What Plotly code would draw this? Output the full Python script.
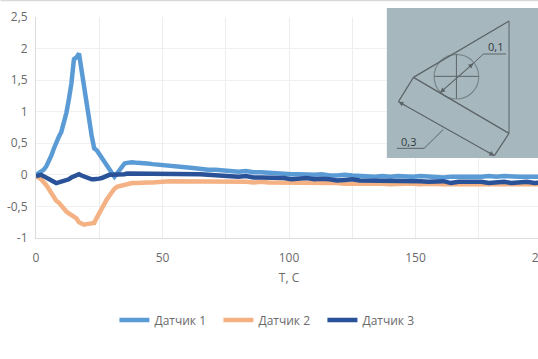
import plotly.graph_objects as go

time_s = [0,1,2,3,4,5,6,7,8,9,10,11,12,13,14,15,16,17,18,19,20,21,22,23,24,25,26,27,28,29,30,31,32,33,34,35,36,38,40,42,44,46,48,50,
          53,56,59,62,65,68,71,74,77,80,83,86,89,92,95,98,101,104,107,110,113,116,119,122,125,128,131,134,137,140,143,146,149,152,155,158,161,164,167,170,173,176,179,182,185,188,191,194,197,200]
sensor_1 = [0,0.02,0.04,0.08,0.13,0.21,0.3,0.41,0.52,0.6,0.68,0.83,0.98,1.2,1.45,1.83,1.86,1.92,1.65,1.38,1.18,0.8,0.62,0.42,0.39,0.33,0.27,0.21,0.14,0.08,0.02,-0.03,0.02,0.08,0.14,0.18,0.19,0.2,0.19,0.19,0.18,0.17,0.16,0.15,
            0.14,0.12,0.12,0.11,0.09,0.08,0.08,0.07,0.06,0.05,0.06,0.04,0.04,0.03,0.02,0.02,0.01,0.01,0,0,0.01,-0.01,-0.01,0,-0.01,-0.02,-0.02,-0.03,-0.02,-0.03,-0.02,-0.03,-0.03,-0.02,-0.03,-0.03,-0.04,-0.03,-0.03,-0.03,-0.04,-0.03,-0.02,-0.03,-0.02,-0.03,-0.03,-0.03,-0.03,-0.03]
sensor_2 = [-0.03,-0.04,-0.07,-0.11,-0.16,-0.22,-0.29,-0.35,-0.41,-0.44,-0.49,-0.53,-0.58,-0.61,-0.63,-0.66,-0.69,-0.75,-0.78,-0.79,-0.78,-0.77,-0.77,-0.76,-0.68,-0.6,-0.52,-0.45,-0.39,-0.33,-0.27,-0.22,-0.19,-0.18,-0.17,-0.16,-0.15,-0.13,-0.13,-0.12,-0.12,-0.12,-0.12,-0.11,
            -0.1,-0.1,-0.11,-0.1,-0.1,-0.1,-0.1,-0.1,-0.11,-0.1,-0.11,-0.12,-0.11,-0.12,-0.12,-0.12,-0.13,-0.13,-0.12,-0.13,-0.13,-0.13,-0.13,-0.14,-0.14,-0.13,-0.14,-0.13,-0.14,-0.15,-0.14,-0.14,-0.14,-0.15,-0.14,-0.15,-0.15,-0.15,-0.15,-0.14,-0.15,-0.15,-0.15,-0.14,-0.15,-0.15,-0.15,-0.15,-0.15,-0.15]
sensor_3 = [-0.02,-0.01,0,-0.02,-0.04,-0.06,-0.08,-0.11,-0.13,-0.12,-0.11,-0.1,-0.09,-0.07,-0.04,-0.02,0,0.01,-0.01,-0.03,-0.05,-0.06,-0.07,-0.07,-0.07,-0.06,-0.05,-0.03,-0.02,0,0,0,0,0.01,0.01,0.01,0.02,0.02,0.02,0.02,0.02,0.02,0.02,0.02,
            0.02,0.01,0.01,0.01,0.01,0,-0.01,-0.01,-0.02,-0.03,-0.02,-0.04,-0.04,-0.04,-0.05,-0.05,-0.07,-0.06,-0.05,-0.07,-0.06,-0.07,-0.09,-0.08,-0.07,-0.09,-0.09,-0.09,-0.09,-0.09,-0.1,-0.1,-0.1,-0.1,-0.11,-0.11,-0.1,-0.13,-0.11,-0.11,-0.11,-0.11,-0.13,-0.12,-0.11,-0.13,-0.12,-0.11,-0.13,-0.12]
series_names = ["Датчик 1", "Датчик 2", "Датчик 3"]
series_colors = ["#5B9BD5", "#F4B183", "#2A5298"]
y_ticks = [-1,-0.5,0,0.5,1,1.5,2,2.5]
y_labels = ["-1","-0,5","0","0,5","1","1,5","2","2,5"]
x_ticks = [0,50,100,150,200]

W, H = 560, 359
L, R, T, B = 35.5, 18, 17, 121
FONT = "Open Sans, sans-serif"
TXT = "#6a6a6a"

def px(x): return (x - L) / (W - L - R)
def py(y): return 1 - (y - T) / (H - T - B)

fig = go.Figure()
for name, vals, col in zip(series_names, [sensor_1, sensor_2, sensor_3], series_colors):
    fig.add_trace(go.Scatter(x=time_s, y=vals, name=name, mode="lines",
                             line=dict(color=col, width=4.5), cliponaxis=False))

# inset sketch
def zx(v): return 380 + v / 3
def zy(v): return v / 3
INK = "#5c6468"
shapes = [
    dict(type="line", xref="paper", yref="paper", x0=px(0), x1=px(560), y0=py(0.5), y1=py(0.5),
         line=dict(color="#d9d9d9", width=1.5)),
    dict(type="rect", xref="paper", yref="paper", x0=px(386.7), x1=px(560), y0=py(8), y1=py(158),
         fillcolor="#A6B8BD", line=dict(width=0)),
    dict(type="circle", xref="paper", yref="paper", x0=px(zx(162)), x1=px(zx(296)), y0=py(zy(163)), y1=py(zy(297)),
         line=dict(color="#79868b", width=1.2)),
]
segs = [
    ((100,232),(387,63),1.3),((387,63),(387,400),1.0),((387,400),(100,232),1.3),
    ((100,232),(55,305),1.2),((387,400),(343,467),1.2),
    ((55,305),(343,467),1.2),((190,388),(132,445),1.0),((132,445),(50,445),1.0),
    ((163,229),(296,229),1.0),((229,163),(229,296),1.0),
    ((180,278),(280,190),1.2),((280,190),(310,162),1.0),((310,162),(378,162),1.0),
]
for a, b, w in segs:
    shapes.append(dict(type="line", xref="paper", yref="paper",
                       x0=px(zx(a[0])), y0=py(zy(a[1])), x1=px(zx(b[0])), y1=py(zy(b[1])),
                       line=dict(color=INK, width=w)))
annotations = [
    dict(xref="paper", yref="paper", x=px(zx(345)), y=py(zy(140)), text="0,1", showarrow=False,
         xanchor="center", yanchor="middle", font=dict(family=FONT, size=11, color="#333a3d")),
    dict(xref="paper", yref="paper", x=px(zx(84)), y=py(zy(424)), text="0,3", showarrow=False,
         xanchor="center", yanchor="middle", font=dict(family=FONT, size=11, color="#333a3d")),
]
for tip, tail in [((55,305),(80,319)),((343,467),(318,453)),((180,278),(195,265)),((280,190),(265,203))]:
    annotations.append(dict(xref="paper", yref="paper",
                            x=px(zx(tip[0])), y=py(zy(tip[1])),
                            ax=(tail[0]-tip[0])/3, ay=(tail[1]-tip[1])/3, text="", showarrow=True,
                            arrowhead=2, arrowsize=1, arrowwidth=1, arrowcolor=INK))

fig.update_layout(
    width=W, height=H, autosize=False,
    margin=dict(l=L, r=R, t=T, b=B, pad=0, autoexpand=False),
    paper_bgcolor="white", plot_bgcolor="white",
    font=dict(family=FONT, size=12, color=TXT),
    shapes=shapes, annotations=annotations,
    legend=dict(orientation="h", x=px(114), xanchor="left", y=py(320), yanchor="middle",
                entrywidth=59, entrywidthmode="pixels", font=dict(size=12, color=TXT),
                bgcolor="rgba(0,0,0,0)", traceorder="normal"),
    xaxis=dict(range=[0,200], tickvals=x_ticks, ticktext=[str(v) for v in x_ticks],
               showgrid=True, gridcolor="#ededed", gridwidth=1,
               minor=dict(dtick=25, showgrid=True, gridcolor="#ededed", gridwidth=1),
               zeroline=False, showline=True, linecolor="#dcdcdc", linewidth=1, ticks="",
               automargin=False, ticklabelstandoff=9, tickfont=dict(size=12, color=TXT),
               title=dict(text="T, C", font=dict(size=12, color=TXT), standoff=8)),
    yaxis=dict(range=[-1,2.5], tickvals=y_ticks, ticktext=y_labels,
               showgrid=True, gridcolor="#f0f0f0", gridwidth=1, zeroline=False,
               showline=True, linecolor="#dcdcdc", linewidth=1, ticks="",
               automargin=False, ticklabelstandoff=5, tickfont=dict(size=12, color=TXT)),
)
fig.write_html("out.html", config=dict(displayModeBar=False),
               post_script="document.body.style.margin='0';document.body.style.overflow='hidden';document.documentElement.style.overflow='hidden';")
